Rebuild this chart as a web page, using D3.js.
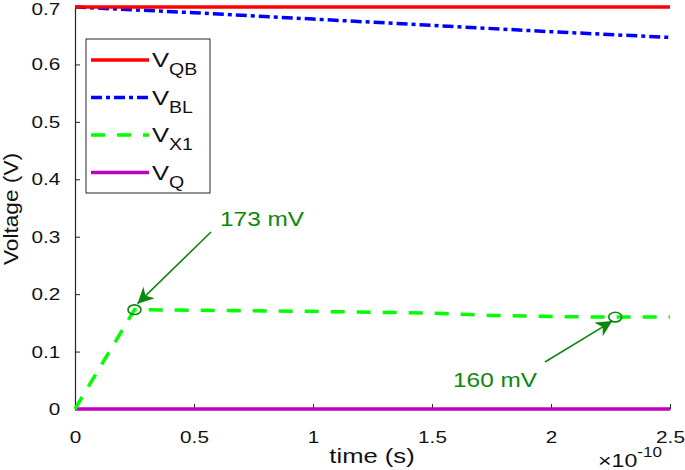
<!DOCTYPE html>
<html lang="en">
<head>
  <meta charset="UTF-8">
  <title>Voltage vs time</title>
  <script src="https://d3js.org/d3.v7.min.js"></script>
  <style>
    html, body { margin: 0; padding: 0; background: #fff; overflow: hidden; }
    svg { display: block; font-family: "Liberation Sans", Arial, sans-serif; }
  </style>
</head>
<body>
  <svg width="685" height="470"></svg>
  <script>
    // time in units of 1e-10 s
    const tQB = [0, 2.5];
    const vQB = [0.7, 0.7];
    const tBL = [0, 0.5, 1, 1.5, 2, 2.5];
    const vBL = [0.700, 0.690, 0.679, 0.668, 0.657, 0.647];
    const tX1 = [0, 0.25, 0.5, 1.0, 1.5, 1.75, 2.0, 2.27, 2.5];
    const vX1 = [0, 0.173, 0.172, 0.170, 0.167, 0.163, 0.161, 0.160, 0.160];
    const tQ = [0, 2.5];
    const vQ = [0, 0];
    const xTicks = [0, 0.5, 1, 1.5, 2, 2.5];
    const yTicks = [0, 0.1, 0.2, 0.3, 0.4, 0.5, 0.6, 0.7];
    const marks = [{t: 0.25, v: 0.173, label: "173 mV"}, {t: 2.27, v: 0.160, label: "160 mV"}];

    const series = [
      {name: "QB", t: tQB, v: vQB, color: "#ff0000", dash: null},
      {name: "BL", t: tBL, v: vBL, color: "#0000ff", dash: "11,4,4,4"},
      {name: "X1", t: tX1, v: vX1, color: "#00ff00", dash: "14,12"},
      {name: "Q", t: tQ, v: vQ, color: "#bf00bf", dash: null}
    ];

    const sx = 1.22; // horizontal stretch of the text
    const svg = d3.select("svg");
    const x = d3.scaleLinear().domain([0, 2.5]).range([75, 670]);
    const y = d3.scaleLinear().domain([0, 0.7]).range([409, 7]);
    const axisColor = "#262626";
    const annColor = "#0b870b";

    // axes
    const gx = svg.append("g").attr("transform", "translate(0,409)")
      .call(d3.axisBottom(x).tickValues(xTicks).tickFormat(d3.format("")).tickSizeInner(-5).tickSizeOuter(0).tickPadding(22));
    const gy = svg.append("g").attr("transform", "translate(75,0)")
      .call(d3.axisLeft(y).tickValues(yTicks).tickFormat(d3.format("")).tickSizeInner(-5).tickSizeOuter(0).tickPadding(12));
    [gx, gy].forEach(g => {
      g.select(".domain").attr("stroke", axisColor).attr("stroke-width", 1.2);
      g.selectAll(".tick line").attr("stroke", axisColor);
      g.selectAll(".tick text").attr("fill", "#111").attr("font-size", 17)
        .attr("font-family", "Liberation Sans, Arial, sans-serif")
        .attr("transform", `scale(${sx},1)`);
    });
    gy.selectAll(".tick text").filter(d => d === 0.7).attr("dy", "0.42em");

    // lines
    const line = d3.line().x(d => x(d[0])).y(d => y(d[1]));
    series.slice().reverse().forEach(s => {
      svg.append("path")
        .datum(s.t.map((t, i) => [t, s.v[i]]))
        .attr("d", line)
        .attr("fill", "none")
        .attr("stroke", s.color)
        .attr("stroke-width", 3.5)
        .attr("stroke-dasharray", s.dash);
    });

    // annotations
    svg.append("defs").append("marker")
      .attr("id", "arrow").attr("viewBox", "0 0 10 10")
      .attr("refX", 10).attr("refY", 5)
      .attr("markerWidth", 16).attr("markerHeight", 16)
      .attr("markerUnits", "userSpaceOnUse")
      .attr("orient", "auto")
      .append("path").attr("d", "M0,0 L10,5 L0,10 L3,5 Z").attr("fill", annColor);

    marks.forEach(m => {
      svg.append("ellipse")
        .attr("cx", x(m.t)).attr("cy", y(m.v))
        .attr("rx", 6.5).attr("ry", 4.8)
        .attr("fill", "none").attr("stroke", annColor).attr("stroke-width", 1.6);
    });

    const arrows = [
      {from: [211, 232], to: [x(marks[0].t) + 3, y(marks[0].v) - 6], text: [220, 226]},
      {from: [545, 362], to: [x(marks[1].t) - 3, y(marks[1].v) + 4], text: [453, 387]}
    ];
    arrows.forEach((a, i) => {
      svg.append("line")
        .attr("x1", a.from[0]).attr("y1", a.from[1])
        .attr("x2", a.to[0]).attr("y2", a.to[1])
        .attr("stroke", annColor).attr("stroke-width", 1.6)
        .attr("marker-end", "url(#arrow)");
      svg.append("text")
        .attr("transform", `translate(${a.text[0]},${a.text[1]}) scale(${sx},1)`)
        .attr("fill", annColor).attr("font-size", 20)
        .text(marks[i].label);
    });

    // legend
    const lg = svg.append("g");
    lg.append("rect").attr("x", 86).attr("y", 39).attr("width", 124).attr("height", 154)
      .attr("fill", "#fff").attr("stroke", axisColor).attr("stroke-width", 1);
    series.forEach((s, i) => {
      const yy = 60 + i * 37.5;
      lg.append("line").attr("x1", 91).attr("x2", 149).attr("y1", yy).attr("y2", yy)
        .attr("stroke", s.color).attr("stroke-width", 3.5).attr("stroke-dasharray", s.dash);
      const t = lg.append("text")
        .attr("transform", `translate(152,${yy + 7}) scale(${sx},1)`)
        .attr("font-size", 21).attr("fill", "#111");
      t.append("tspan").text("V");
      t.append("tspan").attr("font-size", 16).attr("dy", 8).text(s.name);
    });

    // axis titles
    svg.append("text")
      .attr("transform", `translate(372,463) scale(${sx},1)`)
      .attr("text-anchor", "middle").attr("font-size", 21).attr("fill", "#111")
      .text("time (s)");
    svg.append("text")
      .attr("transform", "translate(18,209) rotate(-90) scale(1.08,1)")
      .attr("text-anchor", "middle").attr("font-size", 21).attr("fill", "#111")
      .text("Voltage (V)");
    const ex = svg.append("text")
      .attr("transform", `translate(598,467) scale(${sx},1)`)
      .attr("font-size", 19).attr("fill", "#111");
    ex.append("tspan").text("×10");
    ex.append("tspan").attr("font-size", 14).attr("dy", -10).text("-10");
  </script>
</body>
</html>
